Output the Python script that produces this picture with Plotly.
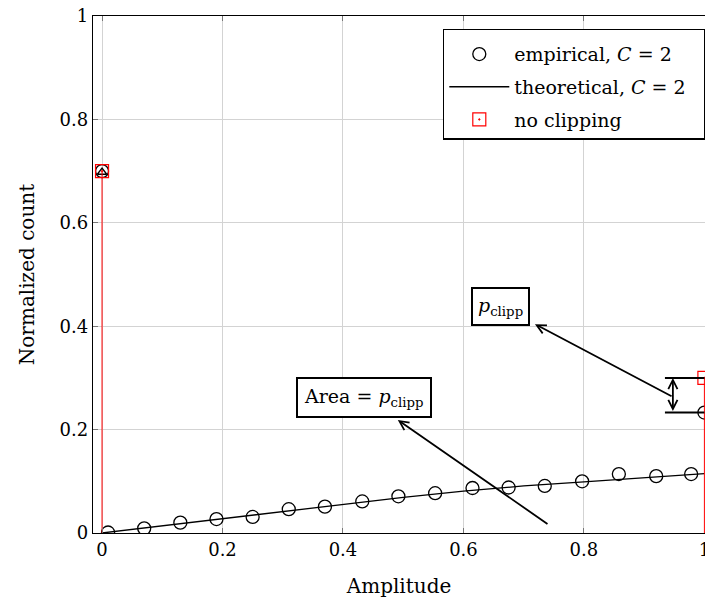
import plotly.graph_objects as go

# ---------------- data ----------------
emp_x = [0.0, 0.01, 0.07, 0.13, 0.19, 0.25, 0.31, 0.37, 0.432, 0.492, 0.553,
         0.615, 0.675, 0.735, 0.797, 0.858, 0.92, 0.978, 1.0]
emp_y = [0.70, 0.001, 0.009, 0.020, 0.027, 0.031, 0.046, 0.051, 0.061, 0.071,
         0.077, 0.087, 0.088, 0.091, 0.100, 0.114, 0.110, 0.114, 0.233]

theo_x = [0.0, 0.1, 0.2, 0.3, 0.4, 0.5, 0.6, 0.7, 0.8, 0.9, 1.0]
theo_y = [0.0, 0.014, 0.028, 0.042, 0.056, 0.069, 0.081, 0.091, 0.099, 0.107, 0.115]
delta_x = [0.0]
delta_y = [0.698]

noclip_x = [0.0, 1.0]
noclip_y = [0.70, 0.30]

x_ticks = [0, 0.2, 0.4, 0.6, 0.8, 1]
y_ticks = [0, 0.2, 0.4, 0.6, 0.8, 1]

FONT = "DejaVu Serif"
FS = 19
AFS = 18
TFS = 20

fig = go.Figure()

# theoretical line
fig.add_trace(go.Scatter(
    x=theo_x, y=theo_y, mode="lines",
    line=dict(color="black", width=1.3),
    name="theoretical, <i>C</i> = 2&nbsp;&nbsp;", legendgroup="b", legendrank=2))
# delta arrow tip of theoretical
fig.add_trace(go.Scatter(
    x=delta_x, y=delta_y, mode="markers", showlegend=False,
    marker=dict(symbol="triangle-up-open", size=8, color="black",
                line=dict(width=1.5, color="black"))))
# empirical
fig.add_trace(go.Scatter(
    x=emp_x, y=emp_y, mode="markers",
    marker=dict(symbol="circle-open", size=13, color="black",
                line=dict(width=1.3, color="black")),
    name="empirical, <i>C</i> = 2", legendgroup="a", legendrank=1))
# no clipping stems
stem_x, stem_y = [], []
for xv, yv in zip(noclip_x, noclip_y):
    stem_x += [xv, xv, None]
    stem_y += [0, yv, None]
fig.add_trace(go.Scatter(
    x=stem_x, y=stem_y, mode="lines", showlegend=False,
    line=dict(color="red", width=1)))
fig.add_trace(go.Scatter(
    x=noclip_x, y=noclip_y, mode="markers",
    marker=dict(symbol="square-open-dot", size=13, color="red",
                line=dict(width=1.2, color="red")),
    name="no clipping", legendgroup="c", legendrank=3))

# bracket lines
for yv in [noclip_y[1], emp_y[-1]]:
    fig.add_shape(type="line", x0=0.9345, x1=1.0, y0=yv, y1=yv,
                  xref="x", yref="y", line=dict(color="black", width=2))

anns = []
# double arrow of bracket
anns.append(dict(x=0.9477, y=noclip_y[1], ax=0.9477, ay=emp_y[-1],
                 xref="x", yref="y", axref="x", ayref="y", text="",
                 showarrow=True, arrowhead=5, arrowside="end+start",
                 arrowsize=1, arrowwidth=1.8, arrowcolor="black",
                 standoff=0, startstandoff=0))
# arrow to p_clipp box
anns.append(dict(x=0.7187, y=0.404, ax=0.948, ay=0.263,
                 xref="x", yref="y", axref="x", ayref="y", text="",
                 showarrow=True, arrowhead=5, arrowsize=1, arrowwidth=1.8,
                 arrowcolor="black", standoff=0))
# arrow to Area box
anns.append(dict(x=0.491, y=0.2186, ax=0.742, ay=0.0155,
                 xref="x", yref="y", axref="x", ayref="y", text="",
                 showarrow=True, arrowhead=5, arrowsize=1, arrowwidth=1.8,
                 arrowcolor="black", standoff=0))
# text boxes
anns.append(dict(x=0.6622, y=0.4385, xref="x", yref="y",
                 text="<i>p</i><sub>clipp</sub>", showarrow=False,
                 font=dict(family=FONT, size=FS, color="black"),
                 bgcolor="white", bordercolor="black", borderwidth=2,
                 borderpad=5))
anns.append(dict(x=0.4355, y=0.2625, xref="x", yref="y",
                 text="Area = <i>p</i><sub>clipp</sub>", showarrow=False,
                 font=dict(family=FONT, size=FS, color="black"),
                 bgcolor="white", bordercolor="black", borderwidth=2,
                 borderpad=6))

fig.update_layout(
    width=705, height=604,
    margin=dict(l=93, r=0, t=16, b=71, autoexpand=False),
    paper_bgcolor="white", plot_bgcolor="white",
    font=dict(family=FONT, size=AFS, color="black"),
    annotations=anns,
    showlegend=True,
    legend=dict(x=1, y=0.9754, xanchor="right", yanchor="top",
                bgcolor="white", bordercolor="black", borderwidth=1.3,
                font=dict(family=FONT, size=FS, color="black"),
                title=dict(text="&nbsp;", font=dict(size=4)),
                traceorder="grouped", tracegroupgap=5, itemwidth=60),
    xaxis=dict(range=[-0.015, 1.001], tickvals=x_ticks,
               ticktext=[str(v) for v in x_ticks],
               ticklabeloverflow="allow", automargin=False,
               showgrid=True, gridcolor="#d3d3d3", gridwidth=1,
               zeroline=False, showline=True, linecolor="black", linewidth=1.3,
               mirror="ticks", ticks="inside", ticklen=5, tickcolor="#777",
               title=dict(text="Amplitude", standoff=20,
                          font=dict(family=FONT, size=TFS)),
               tickfont=dict(family=FONT, size=AFS)),
    yaxis=dict(range=[0, 1], tickvals=y_ticks,
               ticktext=[str(v) for v in y_ticks],
               automargin=False,
               showgrid=True, gridcolor="#d3d3d3", gridwidth=1,
               zeroline=False, showline=True, linecolor="black", linewidth=1.3,
               ticks="inside", ticklen=5, tickcolor="#777",
               title=dict(text="Normalized count", standoff=19,
                          font=dict(family=FONT, size=TFS)),
               tickfont=dict(family=FONT, size=AFS)),
)

fig.write_html("out.html")
